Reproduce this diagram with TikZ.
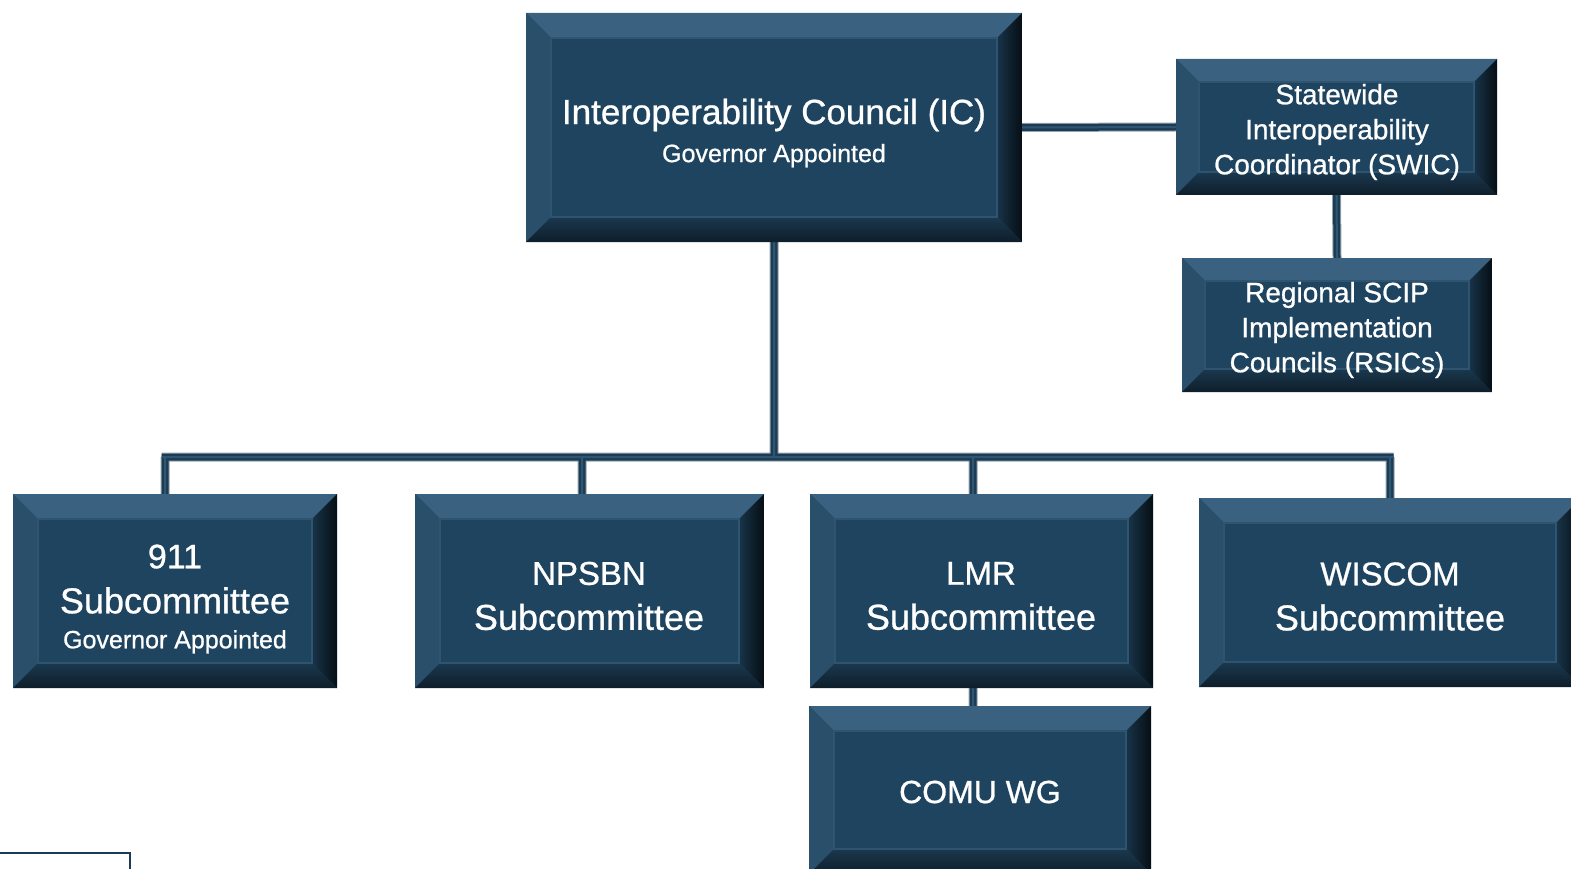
\documentclass[tikz,border=0pt]{standalone}
\usepackage{fontspec}
\setmainfont{Liberation Sans}[RawFeature={embolden=0.8}]
\definecolor{boxfill}{RGB}{31,68,95}
\definecolor{bevtop}{RGB}{58,97,127}
\definecolor{bevleft}{RGB}{42,79,106}
\definecolor{bevrin}{RGB}{24,52,73}
\definecolor{bevrout}{RGB}{6,14,20}
\definecolor{bevbin}{RGB}{26,56,78}
\definecolor{bevbout}{RGB}{14,30,42}
\definecolor{innerline}{RGB}{46,84,112}
\definecolor{connc}{RGB}{28,60,85}
\definecolor{connedge}{RGB}{150,164,176}
\definecolor{connmid}{RGB}{48,86,114}
\pgfdeclarelayer{back}
\pgfdeclarelayer{links}
\pgfsetlayers{back,links,main}
\tikzset{
  bev/.store in=\bevw, bev=25pt,
  bevbox/.style={fill=boxfill, inner sep=0pt,
    path picture={
      \fill[bevtop] (path picture bounding box.north west) -- (path picture bounding box.north east)
        -- ([xshift=-\bevw,yshift=-\bevw]path picture bounding box.north east)
        -- ([xshift=\bevw,yshift=-\bevw]path picture bounding box.north west) -- cycle;
      \fill[bevleft] (path picture bounding box.north west) -- (path picture bounding box.south west)
        -- ([xshift=\bevw,yshift=\bevw]path picture bounding box.south west)
        -- ([xshift=\bevw,yshift=-\bevw]path picture bounding box.north west) -- cycle;
      \shade[left color=bevrin, right color=bevrout] (path picture bounding box.north east) -- (path picture bounding box.south east)
        -- ([xshift=-\bevw,yshift=\bevw]path picture bounding box.south east)
        -- ([xshift=-\bevw,yshift=-\bevw]path picture bounding box.north east) -- cycle;
      \shade[top color=bevbin, bottom color=bevbout] (path picture bounding box.south west) -- (path picture bounding box.south east)
        -- ([xshift=-\bevw,yshift=\bevw]path picture bounding box.south east)
        -- ([xshift=\bevw,yshift=\bevw]path picture bounding box.south west) -- cycle;
      \draw[innerline, line width=1.2pt] ([xshift=\bevw,yshift=-\bevw]path picture bounding box.north west)
        rectangle ([xshift=-\bevw,yshift=\bevw]path picture bounding box.south east);
    }},
  boxtext/.style={text=white, align=center, inner sep=0pt},
  conn/.style={draw=connc, line width=7pt,
    preaction={draw=connedge, line width=9pt},
    postaction={draw=connmid, line width=2pt}},
}
\newcommand{\fs}[2]{\fontsize{#1}{#2}\selectfont}
\begin{document}
\begin{tikzpicture}[x=1pt,y=-1pt]
\clip (0,0) rectangle (1571,869);
\begin{pgfonlayer}{back}
\fill[white] (0,0) rectangle (1571,869);
\end{pgfonlayer}

\coordinate (bl) at (165,457);
\coordinate (bn) at (582,457);
\coordinate (bm) at (973,457);
\coordinate (br) at (1390,457);
\coordinate (lc) at (973,690);

% boxes
\node[bevbox, bev=25pt, minimum width=496pt, minimum height=229pt] (ic) at (774,127.5) {};
\node[bevbox, bev=23pt, minimum width=321pt, minimum height=136pt] (swic) at (1336.5,127) {};
\node[bevbox, bev=23pt, minimum width=310pt, minimum height=134pt] (rsic) at (1337,325) {};
\node[bevbox, bev=25pt, minimum width=324pt, minimum height=194pt] (n911) at (175,591) {};
\node[bevbox, bev=25pt, minimum width=349pt, minimum height=194pt] (npsbn) at (589.5,591) {};
\node[bevbox, bev=25pt, minimum width=343pt, minimum height=194pt] (lmr) at (981.5,591) {};
\node[bevbox, bev=25pt, minimum width=382pt, minimum height=189pt] (wiscom) at (1390,592.5) {};
\node[bevbox, bev=25pt, minimum width=342pt, minimum height=168pt] (comu) at (980,790) {};

% texts
\node[boxtext, font=\fs{25}{38}] (ic-t) at (774,133)
  {\fs{35}{38}Interoperability Council (IC)\\ Governor Appointed};
\node[boxtext, font=\fs{28}{35}] (swic-t) at (1337,132)
  {Statewide\\ Interoperability\\ Coordinator (SWIC)};
\node[boxtext, font=\fs{28}{35}] (rsic-t) at (1337,330)
  {Regional SCIP\\ Implementation\\ Councils (RSICs)};
\node[boxtext, font=\fs{25}{38}] (n911-t) at (175,599)
  {\fs{34}{45}911\\[7pt] \fs{36}{45}Subcommittee\\[-3pt] Governor Appointed};
\node[boxtext, font=\fs{36}{45}] (npsbn-t) at (589,596)
  {\fs{33}{45}NPSBN\\ Subcommittee};
\node[boxtext, font=\fs{36}{45}] (lmr-t) at (981,596)
  {\fs{33}{45}LMR\\ Subcommittee};
\node[boxtext, font=\fs{36}{45}] (wiscom-t) at (1390,596.5)
  {\fs{33}{45}WISCOM\\ Subcommittee};
\node[boxtext, font=\fs{32}{40}] (comu-t) at (980,792)
  {COMU WG};

% connectors, under the boxes
\begin{pgfonlayer}{links}
\draw[conn]
  (ic.south) -- (ic.south |- bl)
  ([xshift=-3.5pt]bl) -- ([xshift=3.5pt]br)
  (bl) -- (bl |- n911.north)
  (bn) -- (bn |- npsbn.north)
  (bm) -- (bm |- lmr.north)
  (br) -- (br |- wiscom.north)
  (ic.east) -- (swic.west)
  (swic.south) -- (rsic.north)
  (lc |- lmr.south) -- (lc |- comu.north);
\end{pgfonlayer}

% partial shape at bottom left
\coordinate (pa) at (0,853);
\coordinate (pb) at (130,853);
\coordinate (pc) at (130,875);
\draw[connc, line width=2.5pt] (pa) -- (pb) -- (pc);
\end{tikzpicture}
\end{document}
